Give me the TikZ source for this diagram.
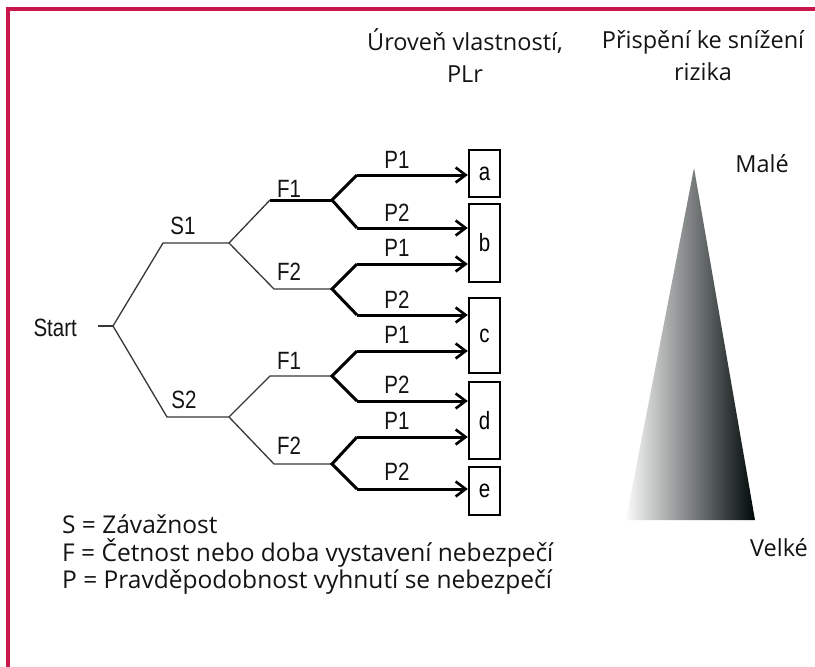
\documentclass[tikz,border=0pt]{standalone}
\usepackage{fontspec}
\setmainfont{Open Sans}
\newfontfamily\treefont[FakeStretch=0.82]{Liberation Sans}
\usetikzlibrary{arrows.meta}
\definecolor{frame}{HTML}{C8174A}
\definecolor{ink}{HTML}{141414}
\tikzset{
  thin branch/.style={line width=1.3pt, draw=ink!85},
  thick branch/.style={line width=3pt, draw=black, line join=miter},
  arrowline/.style={thick branch, -{Straight Barb[length=10pt,width=15pt,line width=2.6pt]}},
  plbox/.style={draw=black, line width=2.4pt, inner sep=0pt, font=\treefont\fontsize{25}{25}\selectfont},
  treelabel/.style={font=\treefont\fontsize{25}{25}\selectfont, text=ink, inner sep=0pt},
  headtext/.style={font=\fontsize{23.5}{32}\selectfont, text=ink, align=center, inner sep=0pt},
  legendtext/.style={font=\fontsize{24.5}{24}\selectfont, text=ink, anchor=west, inner sep=0pt},
}
\begin{document}
\begin{tikzpicture}[x=1pt, y=-1pt]
\useasboundingbox (0,0) rectangle (815,667);
\fill[white] (0,0) rectangle (815,667);
% frame along the top and left edges
\draw[frame, line width=4pt] (8,667) -- (8,9) -- (815,9);

% headings
\node[headtext] (hpl) at (465,56) {Úroveň vlastností,\\PLr};
\node[headtext] (hrisk) at (703,56) {Přispění ke snížení\\rizika};

% decision tree junctions
\coordinate (st) at (98,326);
\coordinate (j0) at (113,326);
\coordinate (s1a) at (163,243);  \coordinate (s1b) at (229,243);
\coordinate (s2a) at (167,417);  \coordinate (s2b) at (229,417);
\coordinate (f11a) at (270,200); \coordinate (f11b) at (332,200);
\coordinate (f12a) at (274,289); \coordinate (f12b) at (332,289);
\coordinate (f21a) at (270,376); \coordinate (f21b) at (332,376);
\coordinate (f22a) at (274,464); \coordinate (f22b) at (332,464);
\coordinate (p1) at (357,175); \coordinate (p2) at (357,228);
\coordinate (p3) at (357,264); \coordinate (p4) at (357,315);
\coordinate (p5) at (357,351); \coordinate (p6) at (357,401);
\coordinate (p7) at (357,437); \coordinate (p8) at (357,489);

% result boxes
\node[plbox, minimum width=31pt, minimum height=47pt] (ba) at (484.5,173.5) {a};
\node[plbox, minimum width=31pt, minimum height=78pt] (bb) at (484.5,243) {b};
\node[plbox, minimum width=31pt, minimum height=75pt] (bc) at (484.5,335.5) {c};
\node[plbox, minimum width=31pt, minimum height=77pt] (bd) at (484.5,420.5) {d};
\node[plbox, minimum width=31pt, minimum height=48pt] (be) at (484.5,491) {e};

\node[treelabel, anchor=east] (start) at (77,328) {Start};

% thin branches: start, severity, frequency
\draw[thin branch] (st) -- (j0);
\draw[thin branch] (j0) -- (s1a) -- (s1b);
\draw[thin branch] (j0) -- (s2a) -- (s2b);
\draw[thin branch] (s1b) -- (f11a);
\draw[thin branch] (s1b) -- (f12a) -- (f12b);
\draw[thin branch] (s2b) -- (f21a) -- (f21b);
\draw[thin branch] (s2b) -- (f22a) -- (f22b);
\draw[thick branch] (f11a) -- (f11b);

% thick branches: avoidance probability
\draw[thick branch] (p1) -- (f11b) -- (p2);
\draw[thick branch] (p3) -- (f12b) -- (p4);
\draw[thick branch] (p5) -- (f21b) -- (p6);
\draw[thick branch] (p7) -- (f22b) -- (p8);
\draw[arrowline] (p1) -- (p1 -| ba.west);
\draw[arrowline] (p2) -- (p2 -| bb.west);
\draw[arrowline] (p3) -- (p3 -| bb.west);
\draw[arrowline] (p4) -- (p4 -| bc.west);
\draw[arrowline] (p5) -- (p5 -| bc.west);
\draw[arrowline] (p6) -- (p6 -| bd.west);
\draw[arrowline] (p7) -- (p7 -| bd.west);
\draw[arrowline] (p8) -- (p8 -| be.west);

% branch labels
\node[treelabel] (ls1) at (183,226) {S1};
\node[treelabel] (ls2) at (184,400) {S2};
\node[treelabel] (lf11) at (289,189) {F1};
\node[treelabel] (lf12) at (289,272) {F2};
\node[treelabel] (lf21) at (289,361) {F1};
\node[treelabel] (lf22) at (289,446) {F2};
\node[treelabel] (lp1) at (397,160) {P1};
\node[treelabel] (lp2) at (397,213) {P2};
\node[treelabel] (lp3) at (397,248) {P1};
\node[treelabel] (lp4) at (397,300) {P2};
\node[treelabel] (lp5) at (397,335) {P1};
\node[treelabel] (lp6) at (397,385) {P2};
\node[treelabel] (lp7) at (397,421) {P1};
\node[treelabel] (lp8) at (397,472) {P2};

% risk reduction wedge
\shade[left color=white!96!gray, middle color=black!45!gray!90, right color=black!90!teal!60!black]
  (694,168) -- (626,520) -- (755,520) -- cycle;
\node[headtext] (small) at (762,164) {Malé};
\node[headtext] (large) at (779,548) {Velké};

% legend
\node[legendtext] (lgs) at (62,524) {S = Závažnost};
\node[legendtext] (lgf) at (62,553) {F = Četnost nebo doba vystavení nebezpečí};
\node[legendtext] (lgp) at (62,582) {P = Pravděpodobnost vyhnutí se nebezpečí};
\end{tikzpicture}
\end{document}
